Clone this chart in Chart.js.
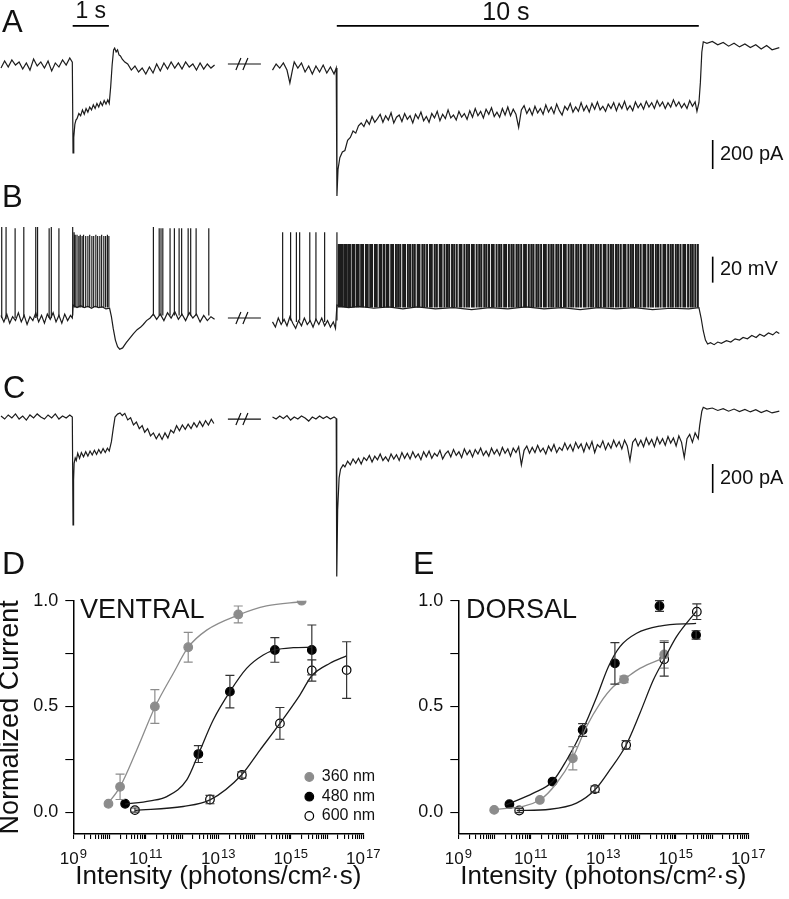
<!DOCTYPE html>
<html>
<head>
<meta charset="utf-8">
<title>Light responses</title>
<script src="https://cdn.jsdelivr.net/npm/chart.js@4.4.1/dist/chart.umd.min.js"></script>
<style>
  body { margin: 0; background: #fff; }
  #fig { position: relative; width: 789px; height: 899px; overflow: hidden; background: #fff; }
  #fig canvas { position: absolute; left: 0; top: 0; }
</style>
</head>
<body>
<div id="fig">
  <canvas id="chartA" width="789" height="899"></canvas>
  <canvas id="chartB" width="789" height="899"></canvas>
  <canvas id="chartC" width="789" height="899"></canvas>
  <canvas id="chartD" width="789" height="899"></canvas>
  <canvas id="chartE" width="789" height="899"></canvas>
</div>
<script>
// ---------- A: current trace (pA), [time in s from segment start, current] ----------
const aLeft = [[0,-21],[0.1,28],[0.2,-14],[0.3,35],[0.4,0],[0.5,21],[0.6,-28],[0.7,14],[0.8,-35],[0.9,41],[1.0,-7],[1.1,21],[1.2,-21],[1.3,28],[1.4,-41],[1.5,14],[1.6,-14],[1.7,35],[1.8,0],[1.9,48],[1.97,20],
  [1.99,-607],[2.01,-500],[2.04,-410],[2.07,-380],[2.1,-370],[2.15,-335],[2.2,-350],[2.25,-310],[2.3,-340],[2.35,-300],[2.4,-325],[2.45,-290],[2.5,-310],[2.55,-275],[2.6,-300],[2.65,-265],[2.7,-290],[2.75,-255],[2.8,-280],[2.85,-245],[2.9,-270],[2.95,-240],[2.99,-265],
  [3.03,-150],[3.07,0],[3.11,104],[3.14,117],[3.18,90],[3.22,104],[3.26,69],[3.3,62],[3.35,40],[3.42,20],[3.5,7],[3.6,-35],[3.7,-7],[3.8,-48],[3.9,-21],[4.0,-62],[4.1,-14],[4.2,-55],[4.3,7],[4.4,-41],[4.5,14],[4.6,-28],[4.7,21],[4.8,-21],[4.9,14],[5.0,-28],[5.1,21],[5.2,-14],[5.3,7],[5.4,-35],[5.5,14],[5.6,-28],[5.7,7],[5.8,-21],[5.9,0]];
const aRight = [[0,-35],[0.1,7],[0.2,-21],[0.3,14],[0.4,-35],[0.48,-124],[0.55,-35],[0.6,21],[0.7,-21],[0.8,14],[0.9,-48],[1.0,-7],[1.1,-62],[1.2,-7],[1.3,-48],[1.4,0],[1.5,-55],[1.6,-14],[1.7,-62],[1.76,-21],
  [1.78,-904],[1.81,-720],[1.86,-640],[1.93,-600],
  [2.0,-590],[2.075,-520],[2.15,-500],[2.225,-455],[2.3,-470],[2.375,-420],[2.45,-400],[2.525,-425],[2.6,-380],[2.675,-410],[2.75,-355],[2.825,-395],[2.9,-370],[2.975,-340],
  [3.05,-395],[3.125,-350],[3.2,-380],[3.275,-330],[3.35,-400],[3.425,-360],[3.5,-345],[3.575,-390],[3.65,-335],[3.725,-375],[3.8,-350],[3.875,-400],[3.95,-340],[4.025,-370],[4.1,-325],[4.175,-385],[4.25,-355],[4.325,-395],[4.4,-335],[4.475,-365],
  [4.55,-320],[4.625,-385],[4.7,-340],[4.775,-370],[4.85,-310],[4.925,-365],[5.0,-345],[5.075,-380],[5.15,-320],[5.225,-360],[5.3,-335],[5.375,-375],[5.45,-315],
  [5.525,-360],[5.6,-300],[5.675,-350],[5.75,-320],[5.825,-365],[5.9,-305],[5.975,-340],[6.05,-295],[6.125,-355],[6.2,-325],[6.275,-360],[6.35,-300],[6.425,-345],
  [6.5,-290],[6.575,-350],[6.65,-305],[6.725,-340],[6.8,-430],[6.875,-310],[6.95,-280],[7.025,-335],[7.1,-300],[7.175,-345],[7.25,-285],[7.325,-330],[7.4,-300],[7.475,-340],
  [7.55,-275],[7.625,-325],[7.7,-290],[7.775,-335],[7.85,-270],[7.925,-315],[8.0,-345],[8.075,-285],[8.15,-310],[8.225,-265],[8.3,-325],[8.375,-290],[8.45,-320],
  [8.525,-260],[8.6,-315],[8.675,-280],[8.75,-325],[8.825,-265],[8.9,-305],[8.975,-255],[9.05,-310],[9.125,-285],[9.2,-320],[9.275,-270],[9.35,-300],[9.425,-260],
  [9.5,-315],[9.575,-265],[9.65,-300],[9.725,-250],[9.8,-310],[9.875,-280],[9.95,-315],[10.025,-255],[10.1,-295],[10.175,-265],[10.25,-305],[10.325,-250],[10.4,-290],[10.475,-260],
  [10.55,-300],[10.625,-245],[10.7,-285],[10.775,-255],[10.85,-300],[10.925,-260],[11.0,-290],[11.075,-240],[11.15,-285],[11.225,-255],[11.3,-295],[11.375,-265],[11.45,-300],[11.525,-245],[11.6,-285],[11.675,-255],[11.725,-320],[11.78,-260],
  [11.82,-120],[11.86,90],[11.9,160],[12.0,150],[12.15,162],[12.3,140],[12.45,155],[12.6,130],[12.75,150],[12.9,125],[13.05,145],[13.2,120],[13.35,140],[13.5,110],[13.65,135],[13.8,105],[14.0,120]];

// ---------- B: membrane potential (mV, relative to rest) ----------
const bLeft = [[0,2],[0.08,-3],[0.16,3],[0.24,-4],[0.32,1],[0.4,-2],[0.48,4],[0.56,-3],[0.64,2],[0.72,-5],[0.8,1],[0.88,-2],[0.96,4],[1.04,-3],[1.12,2],[1.2,-4],[1.28,3],[1.36,-1],[1.44,4],[1.52,-3],[1.6,2],[1.68,-4],[1.76,3],[1.84,-2],[1.92,2],[1.97,0],
  [1.99,10],[2.1,8],[2.2,9.5],[2.3,8],[2.4,9],[2.5,7.5],[2.6,9],[2.7,8],[2.8,8.5],[2.9,7],[3.0,7.5],
  [3.05,1],[3.1,-8],[3.16,-17],[3.22,-22],[3.28,-24],[3.36,-23],[3.46,-19],[3.56,-15.5],[3.66,-12],[3.76,-9],[3.86,-7],[3.93,-5],[4.02,-2],[4.12,0],[4.21,3],[4.3,-1],[4.4,3],[4.5,-2],[4.6,4],[4.7,0],[4.8,5],[4.9,-1],[5.0,3],[5.1,-2],[5.2,4],[5.3,0],[5.4,3],[5.5,-3],[5.6,2],[5.7,-2],[5.8,1],[5.9,-1]];
const bRight = [[0,-3],[0.08,-7],[0.16,0],[0.24,-5],[0.32,-1],[0.4,-6],[0.48,1],[0.56,-4],[0.64,-8],[0.72,-2],[0.8,-6],[0.88,0],[0.96,-5],[1.04,-2],[1.12,-7],[1.2,-1],[1.28,-5],[1.36,0],[1.44,-6],[1.52,-2],[1.6,-7],[1.68,-3],[1.74,-8],
  [1.78,10],[1.9,9],[2.1,8],[2.4,9],[2.8,7.5],[3.2,8.5],[3.6,7],[4.0,8.5],[4.5,7],[5.0,8],[5.5,6.5],[6.0,8],[6.5,7],[7.0,8.5],[7.5,7],[8.0,8],[8.5,6.5],[9.0,8],[9.5,7],[10.0,8],[10.5,6.5],[11.0,7.5],[11.5,7],[11.78,8],
  [11.84,0],[11.9,-10],[11.96,-17],[12.02,-20],[12.1,-19],[12.2,-20.5],[12.3,-18.5],[12.4,-19.5],[12.54,-17.5],[12.66,-18.5],[12.78,-16],[12.9,-17],[13.0,-15],[13.12,-16],[13.24,-13.5],[13.36,-15],[13.46,-12.5],[13.58,-14],[13.7,-11.5],[13.82,-13],[13.92,-10.5],[14.0,-12]];
// spikes: [time, foot, peak]
const bLeftSpikes = [[0.02,0,70],[0.14,-1,70],[0.39,0,69],[0.63,1,70],[0.96,0,70],[1.01,1,70],[1.33,0,69],[1.39,0,70],[1.60,1,69],[1.98,2,70],
  [2.02,8,66],[2.05,8,64],[2.10,8,64],[2.15,8,63],[2.19,8,64],[2.24,8,63],[2.28,8,64],[2.34,8,63],[2.40,8,63],[2.45,8,64],[2.51,8,63],[2.56,8,63],[2.62,8,64],[2.67,8,63],[2.73,8,63],[2.78,8,64],[2.84,8,63],[2.89,8,63],[2.94,8,64],[2.98,8,63],
  [4.21,2,70],[4.37,2,69],[4.42,2,69],[4.47,2,69],[4.67,2,69],[4.79,2,69],[4.92,2,69],[4.99,2,69],[5.17,2,69],[5.24,2,69],[5.39,2,69],[5.74,2,69]];
const bRightSpikes = [[0.28,-3,66],[0.50,-2,66],[0.66,-3,66],[0.75,-2,66],[1.03,-3,66],[1.20,-2,66],[1.44,-3,66],[1.78,-2,66]];
const bTrain = [1.83,1.87,1.92,1.98,2.03,2.09,2.14,2.21,2.26,2.33,2.38,2.45,2.50,2.58,2.63,2.70,2.75,2.83,2.88,2.96,3.01,3.08,3.15,3.20,3.28,3.33,3.41,3.47,3.53,3.61,3.66,3.74,3.80,3.87,3.93,4.01,4.06,4.14,4.20,4.27,4.35,4.40,4.48,4.54,4.62,4.67,4.75,4.82,4.88,4.96,5.02,5.09,5.17,5.22,5.30,5.37,5.43,5.51,5.56,5.64,5.71,5.77,5.85,5.91,5.98,6.06,6.11,6.19,6.26,6.32,6.40,6.45,6.53,6.60,6.66,6.74,6.80,6.87,6.95,7.00,7.08,7.15,7.21,7.29,7.35,7.42,7.50,7.55,7.63,7.70,7.76,7.84,7.90,7.97,8.05,8.10,8.18,8.25,8.31,8.39,8.45,8.52,8.60,8.65,8.73,8.80,8.86,8.94,9.00,9.07,9.15,9.20,9.28,9.35,9.41,9.49,9.55,9.62,9.70,9.75,9.83,9.90,9.96,10.04,10.10,10.17,10.25,10.30,10.38,10.45,10.51,10.59,10.65,10.72,10.80,10.85,10.93,11.00,11.06,11.14,11.20,11.27,11.35,11.40,11.48,11.55,11.61,11.68,11.75];
const bTrainFoot = 8, bTrainPeak = 57;

// ---------- C: current trace (pA) ----------
const cLeft = [[0,7],[0.1,-14],[0.2,14],[0.3,-7],[0.4,21],[0.5,-14],[0.6,7],[0.7,-21],[0.8,14],[0.9,-7],[1.0,21],[1.1,0],[1.2,-14],[1.3,14],[1.4,-7],[1.5,21],[1.6,-14],[1.7,7],[1.8,-7],[1.9,14],[1.97,0],
  [1.99,-745],[2.005,-435],[2.02,-320],[2.05,-283],[2.08,-300],[2.12,-250],[2.17,-285],[2.22,-245],[2.28,-275],[2.34,-240],[2.4,-270],[2.46,-235],[2.52,-262],[2.58,-230],[2.64,-258],[2.7,-225],[2.76,-250],[2.82,-218],[2.88,-245],[2.94,-215],[2.99,-235],
  [3.05,-170],[3.1,-80],[3.15,0],[3.22,20],[3.29,28],[3.35,10],[3.42,25],[3.5,-20],[3.58,-5],[3.66,-55],[3.74,-35],[3.82,-80],[3.9,-60],[3.97,-105],[4.05,-80],[4.13,-130],[4.21,-110],[4.29,-150],[4.37,-115],[4.45,-155],[4.53,-110],[4.61,-145],[4.69,-90],[4.77,-110],[4.85,-60],[4.93,-95],[5.01,-55],[5.09,-85],[5.17,-50],[5.25,-80],[5.33,-40],[5.41,-70],[5.49,-30],[5.57,-65],[5.65,-25],[5.73,-55],[5.81,-15],[5.88,-45]];
const cRight = [[0,0],[0.1,-14],[0.2,7],[0.3,-10],[0.4,10],[0.5,-21],[0.6,0],[0.7,-14],[0.8,7],[0.9,-7],[1.0,-28],[1.1,0],[1.2,-14],[1.3,7],[1.4,-10],[1.5,3],[1.6,-14],[1.7,0],[1.76,-10],
  [1.775,-1100],[1.80,-640],[1.84,-420],[1.88,-360],[1.95,-330],
  [2.0,-345],[2.075,-305],[2.15,-330],[2.225,-290],[2.3,-320],[2.375,-285],[2.45,-325],[2.525,-280],[2.6,-300],[2.675,-265],[2.75,-310],[2.825,-270],[2.9,-295],[2.975,-255],
  [3.05,-300],[3.125,-275],[3.2,-305],[3.275,-255],[3.35,-290],[3.425,-260],[3.5,-300],[3.575,-245],[3.65,-285],[3.725,-250],[3.8,-290],[3.875,-240],[3.95,-280],[4.025,-255],[4.1,-295],[4.175,-240],[4.25,-275],[4.325,-235],[4.4,-285],[4.475,-250],[4.55,-270],[4.625,-230],[4.7,-290],[4.775,-255],
  [4.85,-235],[4.925,-275],[5.0,-225],[5.075,-265],[5.15,-240],[5.225,-280],[5.3,-220],[5.375,-260],[5.45,-230],[5.525,-275],[5.6,-225],[5.675,-255],[5.75,-215],[5.825,-265],[5.9,-235],[5.975,-270],
  [6.05,-215],[6.125,-255],[6.2,-225],[6.275,-265],[6.35,-210],[6.425,-250],[6.5,-220],[6.575,-270],[6.65,-215],[6.725,-245],[6.8,-205],[6.875,-330],[6.95,-230],
  [7.025,-200],[7.1,-250],[7.175,-210],[7.25,-245],[7.325,-195],[7.4,-240],[7.475,-215],[7.55,-255],[7.625,-200],[7.7,-235],[7.775,-190],[7.85,-245],[7.925,-210],
  [8.0,-230],[8.075,-180],[8.15,-225],[8.225,-190],[8.3,-235],[8.375,-175],[8.45,-215],[8.525,-185],[8.6,-240],[8.675,-180],[8.75,-220],[8.825,-170],[8.9,-245],[8.975,-190],
  [9.05,-210],[9.125,-165],[9.2,-225],[9.275,-180],[9.35,-215],[9.425,-160],[9.5,-205],[9.575,-170],[9.65,-220],[9.725,-160],[9.8,-200],[9.875,-300],[9.95,-175],
  [10.025,-150],[10.1,-200],[10.175,-160],[10.25,-205],[10.325,-145],[10.4,-190],[10.475,-155],[10.55,-205],[10.625,-140],[10.7,-185],[10.775,-150],[10.85,-195],[10.925,-135],
  [11.0,-180],[11.075,-145],[11.15,-200],[11.225,-130],[11.3,-175],[11.375,-280],[11.45,-150],[11.525,-120],[11.6,-175],[11.675,-110],[11.76,-150],
  [11.8,-60],[11.86,40],[11.9,67],[12.0,55],[12.15,62],[12.3,45],[12.45,58],[12.6,40],[12.75,55],[12.9,38],[13.05,52],[13.2,35],[13.35,50],[13.5,30],[13.65,45],[13.8,28],[14.0,40]];

// ---------- D: ventral, log10 intensity / normalized current / SEM ----------
const v360X = [9.97, 10.29, 11.25, 12.17, 13.55, 15.30];
const v360Y = [0.04, 0.12, 0.50, 0.78, 0.935, 1.00];
const v360E = [0, 0.06, 0.08, 0.07, 0.04, 0];
const v480X = [10.43, 12.45, 13.32, 14.56, 15.58];
const v480Y = [0.04, 0.275, 0.57, 0.767, 0.767];
const v480E = [0, 0.04, 0.077, 0.058, 0.118];
const v600X = [10.70, 12.77, 13.65, 14.70, 15.58, 16.54];
const v600Y = [0.01, 0.06, 0.176, 0.42, 0.67, 0.672];
const v600E = [0.01, 0.02, 0.015, 0.075, 0.05, 0.134];
const v360FitX = [9.87, 10.29, 10.75, 11.25, 11.76, 12.17, 12.68, 13.55, 14.33, 15.30];
const v360FitY = [0.024, 0.12, 0.294, 0.496, 0.657, 0.78, 0.861, 0.932, 0.975, 0.995];
const v480FitX = [10.43, 11.12, 11.58, 12.13, 12.45, 12.86, 13.32, 13.78, 14.24, 14.56, 15.07, 15.58];
const v480FitY = [0.038, 0.054, 0.074, 0.153, 0.274, 0.436, 0.57, 0.68, 0.743, 0.767, 0.778, 0.78];
const v600FitX = [10.70, 12.03, 12.77, 13.64, 14.15, 14.70, 15.25, 15.58, 16.08, 16.54];
const v600FitY = [0.008, 0.027, 0.058, 0.176, 0.294, 0.42, 0.554, 0.645, 0.704, 0.739];

// ---------- E: dorsal ----------
const d360X = [9.99, 11.25, 12.16, 13.57, 14.68];
const d360Y = [0.011, 0.058, 0.255, 0.628, 0.746];
const d360E = [0, 0, 0.055, 0.015, 0.065];
const d480X = [10.41, 11.60, 12.43, 13.32, 14.55, 15.56];
const d480Y = [0.038, 0.145, 0.389, 0.704, 0.975, 0.838];
const d480E = [0, 0, 0.03, 0.098, 0.025, 0.02];
const d600X = [10.68, 12.77, 13.63, 14.68, 15.58];
const d600Y = [0.008, 0.109, 0.318, 0.723, 0.948];
const d600E = [0.01, 0.015, 0.02, 0.08, 0.037];
const d360FitX = [9.87, 11.25, 11.71, 12.15, 12.54, 12.91, 13.28, 13.57, 14.01, 14.70];
const d360FitY = [0.008, 0.058, 0.137, 0.255, 0.405, 0.515, 0.594, 0.628, 0.68, 0.732];
const d480FitX = [10.32, 11.07, 11.60, 11.99, 12.43, 12.82, 13.14, 13.46, 13.92, 14.56, 15.56];
const d480FitY = [0.035, 0.09, 0.145, 0.247, 0.389, 0.546, 0.688, 0.783, 0.846, 0.88, 0.893];
const d600FitX = [10.61, 11.53, 12.26, 12.77, 13.18, 13.63, 14.01, 14.38, 14.68, 15.02, 15.58];
const d600FitY = [0.008, 0.014, 0.043, 0.106, 0.2, 0.318, 0.468, 0.625, 0.723, 0.83, 0.953];

const xTickExp = [9, 11, 13, 15, 17];
const yTickVals = [0, 0.25, 0.5, 0.75, 1.0];
const yLabelVals = [0, 0.5, 1.0];

// ---------- layout ----------
const FONT = "'Liberation Sans', Arial, Helvetica, sans-serif";
const T_MIN = -1 / 36.2, T_MAX = 788 / 36.2;   // display time range of trace rows
const RIGHT_START = 7.5;                        // display time where the right segment begins

Chart.defaults.font.family = FONT;
Chart.defaults.color = '#111';

const annot = {
  id: 'annot',
  afterDraw(chart, args, opts) {
    const ctx = chart.ctx, xs = chart.scales.x, ys = chart.scales.y;
    ctx.save();
    (opts.texts || []).forEach(t => {
      ctx.fillStyle = '#111';
      ctx.font = t.size + 'px ' + FONT;
      ctx.textAlign = t.align || 'left';
      ctx.textBaseline = t.base || 'alphabetic';
      const x = t.px != null ? t.px : xs.getPixelForValue(t.x);
      const y = t.py != null ? t.py : ys.getPixelForValue(t.y);
      ctx.fillText(t.text, x, y);
    });
    (opts.breaks || []).forEach(b => {
      const x = xs.getPixelForValue(b.x), y = ys.getPixelForValue(b.y);
      ctx.strokeStyle = '#111';
      ctx.lineWidth = 1.2;
      ctx.beginPath();
      ctx.moveTo(x - 16, y); ctx.lineTo(x + 17, y);
      ctx.moveTo(x - 8, y + 6); ctx.lineTo(x - 3, y - 6);
      ctx.moveTo(x - 1, y + 6); ctx.lineTo(x + 4, y - 6);
      ctx.stroke();
    });
    // decade labels 10^n on the log axis
    if (opts.xExp) {
      ctx.fillStyle = '#111';
      ctx.textAlign = 'left';
      ctx.textBaseline = 'alphabetic';
      opts.xExp.forEach(e => {
        const x = xs.getPixelForValue(Math.pow(10, e));
        ctx.font = '17px ' + FONT;
        const w1 = ctx.measureText('10').width;
        ctx.font = '13px ' + FONT;
        const w2 = ctx.measureText(String(e)).width;
        const x0 = x - (w1 + w2 + 1) / 2;
        ctx.font = '17px ' + FONT;
        ctx.fillText('10', x0, opts.xExpY);
        ctx.font = '13px ' + FONT;
        ctx.fillText(String(e), x0 + w1 + 1, opts.xExpY - 6.5);
      });
    }
    (opts.legend || []).forEach(l => {
      ctx.beginPath();
      ctx.arc(l.px, l.py, 4.3, 0, Math.PI * 2);
      ctx.fillStyle = l.fill;
      ctx.fill();
      ctx.lineWidth = 1.2;
      ctx.strokeStyle = l.edge;
      ctx.stroke();
      ctx.fillStyle = '#111';
      ctx.font = '16px ' + FONT;
      ctx.textAlign = 'left';
      ctx.textBaseline = 'middle';
      ctx.fillText(l.text, l.px + 12.5, l.py);
    });
    ctx.restore();
  }
};
Chart.register(annot);

const errorBars = {
  id: 'errorBars',
  afterDatasetsDraw(chart) {
    const ctx = chart.ctx, ys = chart.scales.y;
    chart.data.datasets.forEach((ds, i) => {
      if (!ds.errors) return;
      const meta = chart.getDatasetMeta(i);
      ctx.save();
      ctx.strokeStyle = ds.errorColor;
      ctx.lineWidth = 1.2;
      meta.data.forEach((pt, j) => {
        const e = ds.errors[j];
        if (!e) return;
        const v = ds.data[j].y;
        const y1 = ys.getPixelForValue(v + e), y2 = ys.getPixelForValue(v - e);
        ctx.beginPath();
        ctx.moveTo(pt.x, y1); ctx.lineTo(pt.x, y2);
        ctx.moveTo(pt.x - 4.5, y1); ctx.lineTo(pt.x + 4.5, y1);
        ctx.moveTo(pt.x - 4.5, y2); ctx.lineTo(pt.x + 4.5, y2);
        ctx.stroke();
      });
      ctx.restore();
    });
  }
};

function seg(pairs, offset) {
  return pairs.map(p => ({ x: p[0] + offset, y: p[1] }));
}

function spikePts(list, offset) {
  const out = [];
  list.forEach(s => {
    out.push({ x: s[0] + offset, y: s[1] }, { x: s[0] + offset, y: s[2] }, { x: s[0] + offset, y: null });
  });
  return out;
}

function traceLine(data, width) {
  return { data: data, borderColor: '#1c1c1c', borderWidth: width || 1.2, pointRadius: 0, tension: 0, fill: false, spanGaps: false };
}

function barLine(data) {
  return { data: data, borderColor: '#000', borderWidth: 1.6, pointRadius: 0, fill: false };
}

function traceChart(id, pad, yMin, yMax, datasets, annotOpts) {
  return new Chart(document.getElementById(id), {
    type: 'line',
    data: { datasets: datasets },
    options: {
      responsive: false,
      animation: false,
      devicePixelRatio: 1,
      layout: { padding: pad },
      plugins: { legend: { display: false }, tooltip: { enabled: false }, annot: annotOpts },
      scales: {
        x: { type: 'linear', display: false, min: T_MIN, max: T_MAX, offset: false },
        y: { type: 'linear', display: false, min: yMin, max: yMax }
      }
    }
  });
}

function doseChart(id, pad, yAxisW, yTitle, sets, annotOpts) {
  const datasets = [];
  sets.forEach(s => {
    datasets.push({
      data: s.fitX.map((lx, i) => ({ x: Math.pow(10, lx), y: s.fitY[i] })),
      borderColor: s.line, borderWidth: 1.3, pointRadius: 0, cubicInterpolationMode: 'monotone', fill: false
    });
  });
  sets.forEach(s => {
    datasets.push({
      data: s.x.map((lx, i) => ({ x: Math.pow(10, lx), y: s.y[i] })),
      showLine: false, pointRadius: 4.3, pointBackgroundColor: s.fill, pointBorderColor: s.edge,
      pointBorderWidth: 1.2, errors: s.err, errorColor: s.errColor
    });
  });
  annotOpts.xExp = xTickExp;
  annotOpts.xExpY = 864;
  return new Chart(document.getElementById(id), {
    type: 'line',
    data: { datasets: datasets },
    options: {
      responsive: false,
      animation: false,
      devicePixelRatio: 1,
      layout: { padding: pad },
      plugins: { legend: { display: false }, tooltip: { enabled: false }, annot: annotOpts },
      scales: {
        x: {
          type: 'logarithmic', min: 1e9, max: 1e17, position: 'bottom',
          afterFit: s => { s.height = 65; },
          afterBuildTicks: s => {
            const t = [];
            for (let e = 9; e <= 16; e++) for (let m = 1; m <= 9; m++) t.push({ value: m * Math.pow(10, e) });
            t.push({ value: 1e17 });
            s.ticks = t;
          },
          border: { display: true, color: '#000', width: 1.5 },
          grid: { drawOnChartArea: false, drawTicks: true, tickLength: 5, color: '#000', lineWidth: 1.1 },
          ticks: { display: false, autoSkip: false },
          title: { display: true, text: 'Intensity (photons/cm²·s)', color: '#111', font: { size: 26 }, padding: { top: 0, bottom: 7 } }
        },
        y: {
          type: 'linear', min: -0.103, max: 1.0,
          afterFit: s => { s.width = yAxisW; },
          afterBuildTicks: s => { s.ticks = yTickVals.map(v => ({ value: v })); },
          border: { display: true, color: '#000', width: 1.5 },
          grid: { drawOnChartArea: false, drawTicks: true, tickLength: 8, color: '#000', lineWidth: 1.1 },
          ticks: {
            padding: 7, color: '#111', font: { size: 18 },
            callback: v => yLabelVals.includes(v) ? v.toFixed(1) : ''
          },
          title: { display: !!yTitle, text: yTitle || '', color: '#111', font: { size: 27, lineHeight: 0.8 }, padding: 0 }
        }
      }
    },
    plugins: [errorBars]
  });
}

window.onload = function () {
  const R = RIGHT_START;

  // A
  traceChart('chartA', { top: 0, bottom: 699, left: 0, right: 0 }, -931.5, 448.5, [
    traceLine(seg(aLeft, 0)),
    traceLine(seg(aRight, R)),
    barLine([{ x: 1.98, y: 270 }, { x: 2.98, y: 270 }]),
    barLine([{ x: R + 1.776, y: 270 }, { x: R + 11.776, y: 270 }]),
    barLine([{ x: 19.66, y: -517 }, { x: 19.66, y: -717 }])
  ], {
    texts: [
      { text: 'A', px: 2, py: 32, size: 31 },
      { text: '1 s', x: 2.48, py: 18, size: 23, align: 'center' },
      { text: '10 s', x: 13.95, py: 20, size: 25, align: 'center' },
      { text: '200 pA', px: 720, y: -617, size: 20, base: 'middle' }
    ],
    breaks: [{ x: 6.71, y: 7 }]
  });

  // B
  const trainSpikes = bTrain.map(t => [t, bTrainFoot, bTrainPeak]);
  traceChart('chartB', { top: 200, bottom: 534, left: 0, right: 0 }, -36.15, 90.77, [
    traceLine(seg(bLeft, 0)),
    traceLine(seg(bRight, R)),
    traceLine(spikePts(bLeftSpikes, 0).concat(spikePts(bRightSpikes, R)), 1.2),
    traceLine(spikePts(trainSpikes, R), 2.0),
    barLine([{ x: 19.66, y: 27.2 }, { x: 19.66, y: 47.2 }])
  ], {
    texts: [
      { text: 'B', px: 2, py: 207, size: 31 },
      { text: '20 mV', px: 720, y: 37.2, size: 20, base: 'middle' }
    ],
    breaks: [{ x: 6.71, y: 0 }]
  });

  // C
  traceChart('chartC', { top: 365, bottom: 319, left: 0, right: 0 }, -1124.7, 358.8, [
    traceLine(seg(cLeft, 0)),
    traceLine(seg(cRight, R)),
    barLine([{ x: 19.66, y: -324 }, { x: 19.66, y: -524 }])
  ], {
    texts: [
      { text: 'C', px: 3, py: 398, size: 31 },
      { text: '200 pA', px: 720, y: -424, size: 20, base: 'middle' }
    ],
    breaks: [{ x: 6.71, y: -14 }]
  });

  const GRAY = '#8c8c8c';
  // D
  doseChart('chartD', { top: 600.7, bottom: 0, left: 0, right: 425.7 }, 73.3, 'Normalized Current', [
    { x: v360X, y: v360Y, err: v360E, fitX: v360FitX, fitY: v360FitY, line: GRAY, fill: GRAY, edge: GRAY, errColor: GRAY },
    { x: v480X, y: v480Y, err: v480E, fitX: v480FitX, fitY: v480FitY, line: '#1a1a1a', fill: '#000', edge: '#000', errColor: '#333' },
    { x: v600X, y: v600Y, err: v600E, fitX: v600FitX, fitY: v600FitY, line: '#1a1a1a', fill: '#fff', edge: '#000', errColor: '#333' }
  ], {
    texts: [
      { text: 'D', px: 2, py: 574, size: 32 },
      { text: 'VENTRAL', px: 80, py: 618, size: 27 }
    ],
    legend: [
      { text: '360 nm', px: 309.3, py: 777, fill: GRAY, edge: GRAY },
      { text: '480 nm', px: 309.3, py: 796.7, fill: '#000', edge: '#000' },
      { text: '600 nm', px: 309.3, py: 816, fill: '#fff', edge: '#000' }
    ]
  });

  // E
  doseChart('chartE', { top: 600.7, bottom: 0, left: 395, right: 40.7 }, 63.3, null, [
    { x: d360X, y: d360Y, err: d360E, fitX: d360FitX, fitY: d360FitY, line: GRAY, fill: GRAY, edge: GRAY, errColor: GRAY },
    { x: d480X, y: d480Y, err: d480E, fitX: d480FitX, fitY: d480FitY, line: '#1a1a1a', fill: '#000', edge: '#000', errColor: '#333' },
    { x: d600X, y: d600Y, err: d600E, fitX: d600FitX, fitY: d600FitY, line: '#1a1a1a', fill: '#fff', edge: '#000', errColor: '#333' }
  ], {
    texts: [
      { text: 'E', px: 413, py: 574, size: 32 },
      { text: 'DORSAL', px: 466, py: 618, size: 27 }
    ]
  });
};
</script>
</body>
</html>
